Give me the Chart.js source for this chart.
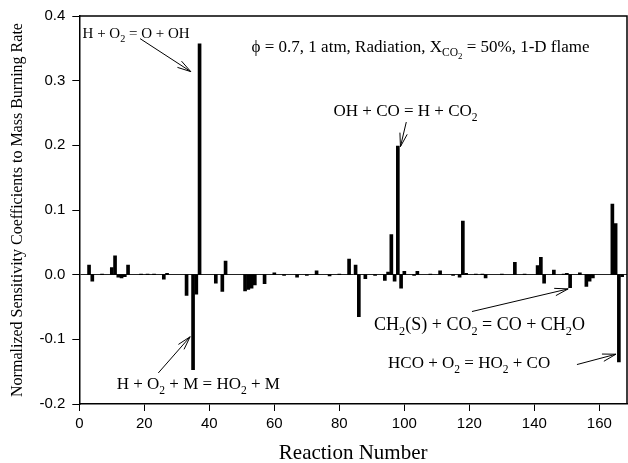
<!DOCTYPE html>
<html>
<head>
<meta charset="utf-8">
<script src="https://cdn.jsdelivr.net/npm/chart.js@4.4.1/dist/chart.umd.min.js"></script>
<style>
  html, body { margin: 0; padding: 0; background: #fff; }
  #wrap { width: 628px; height: 463px; }
</style>
</head>
<body>
<div id="wrap"><canvas id="sensitivity-chart" width="628" height="463"></canvas></div>
<script>
// Reaction index and normalized sensitivity of mass burning rate
const reactionNumbers = [
    3, 4, 7, 10, 11, 12, 13, 14, 15, 19, 21, 23, 26, 27,
    33, 35, 36, 37, 42, 44, 45, 51, 52, 53, 54, 57, 60, 63,
    67, 70, 73, 77, 80, 83, 85, 86, 88, 91, 94, 95, 96, 97,
    98, 99, 100, 103, 104, 108, 111, 115, 117, 118, 119, 122, 124, 125,
    130, 134, 137, 141, 142, 143, 146, 149, 150, 151, 154, 156, 157, 158,
    164, 165, 166, 167
];
const sensitivities = [
    0.015, -0.010, 0.001, 0.011, 0.029, -0.004, -0.005, -0.003, 0.015, 0.001, 0.001, 0.001, -0.007, 0.002,
    -0.032, -0.147, -0.030, 0.357, -0.013, -0.026, 0.021, -0.025, -0.023, -0.021, -0.016, -0.014, 0.003, -0.001,
    -0.004, -0.001, 0.006, -0.002, 0.001, 0.024, 0.015, -0.065, -0.006, -0.001, -0.009, 0.004, 0.062, -0.010,
    0.199, -0.021, 0.005, -0.001, 0.005, 0.001, 0.006, -0.001, -0.004, 0.083, 0.002, 0.001, 0.001, -0.005,
    0.001, 0.019, 0.001, 0.014, 0.027, -0.013, 0.007, 0.001, 0.002, -0.020, 0.003, -0.018, -0.010, -0.005,
    0.109, 0.079, -0.135, -0.003
];
const xTickStep = 20;
const yTickStep = 0.1;

// Reaction labels: text runs as [string, level] (0 normal, 1 subscript, 2 sub-subscript),
// anchored at (reaction, value); arrows go from [x1, y1] to [x2, y2] in data units
const labels = [
    { at: [1.0, 0.366], size: 15, parts: [["H + O", 0], ["2", 1], [" = O + OH", 0]], arrow: [18.7, 0.365, 34.3, 0.314] },
    { at: [53.0, 0.345], size: 17, parts: [["\u03d5 = 0.7, 1 atm, Radiation, X", 0], ["CO", 1], ["2", 2], [" = 50%, 1-D flame", 0]] },
    { at: [78.2, 0.245], size: 17, parts: [["OH + CO = H + CO", 0], ["2", 1]], arrow: [100.6, 0.236, 98.8, 0.198] },
    { at: [11.5, -0.177], size: 17, parts: [["H + O", 0], ["2", 1], [" + M = HO", 0], ["2", 1], [" + M", 0]], arrow: [24.3, -0.152, 34.1, -0.096] },
    { at: [90.7, -0.086], size: 18, parts: [["CH", 0], ["2", 1], ["(S) + CO", 0], ["2", 1], [" = CO + CH", 0], ["2", 1], ["O", 0]], arrow: [120.8, -0.057, 150.4, -0.022] },
    { at: [95.0, -0.145], size: 17, parts: [["HCO + O", 0], ["2", 1], [" = HO", 0], ["2", 1], [" + CO", 0]], arrow: [153.1, -0.139, 165.1, -0.123] }
];

const serif = '"Liberation Serif", "Times New Roman", serif';
const sans = '"Liberation Sans", Arial, sans-serif';

function drawRichText(ctx, x, y, parts, size) {
    let cursor = x;
    parts.forEach(([text, level]) => {
        const s = level === 0 ? size : level === 1 ? size * 0.68 : size * 0.52;
        const drop = level === 0 ? 0 : level === 1 ? size * 0.28 : size * 0.46;
        ctx.font = `${s}px ${serif}`;
        ctx.fillText(text, cursor, y + drop);
        cursor += ctx.measureText(text).width;
    });
}

function drawArrow(ctx, x1, y1, x2, y2) {
    const angle = Math.atan2(y2 - y1, x2 - x1);
    const head = 14;
    const spread = 0.27;
    ctx.beginPath();
    ctx.moveTo(x1, y1);
    ctx.lineTo(x2, y2);
    ctx.moveTo(x2 - head * Math.cos(angle - spread), y2 - head * Math.sin(angle - spread));
    ctx.lineTo(x2, y2);
    ctx.lineTo(x2 - head * Math.cos(angle + spread), y2 - head * Math.sin(angle + spread));
    ctx.stroke();
}

const labelPlugin = {
    id: 'reactionLabels',
    afterDatasetsDraw(chart) {
        const { ctx, chartArea, scales } = chart;
        ctx.save();

        // close the frame on top and right
        ctx.strokeStyle = '#000';
        ctx.lineWidth = 1.5;
        ctx.beginPath();
        ctx.moveTo(chartArea.left, chartArea.top);
        ctx.lineTo(chartArea.right, chartArea.top);
        ctx.lineTo(chartArea.right, chartArea.bottom);
        ctx.stroke();

        ctx.fillStyle = '#000';
        ctx.lineWidth = 1;
        ctx.textBaseline = 'alphabetic';
        labels.forEach(lbl => {
            drawRichText(ctx, scales.x.getPixelForValue(lbl.at[0]), scales.y.getPixelForValue(lbl.at[1]), lbl.parts, lbl.size);
            if (lbl.arrow) {
                const [ax1, ay1, ax2, ay2] = lbl.arrow;
                drawArrow(ctx,
                    scales.x.getPixelForValue(ax1), scales.y.getPixelForValue(ay1),
                    scales.x.getPixelForValue(ax2), scales.y.getPixelForValue(ay2));
            }
        });
        ctx.restore();
    }
};

new Chart(document.getElementById('sensitivity-chart'), {
    type: 'bar',
    data: {
        datasets: [{
            data: reactionNumbers.map((n, i) => ({ x: n, y: sensitivities[i] })),
            backgroundColor: '#000',
            borderWidth: 0,
            barThickness: 3
        }]
    },
    options: {
        responsive: false,
        devicePixelRatio: 1,
        animation: false,
        layout: { padding: { top: 15.6, right: 1, bottom: 0, left: 0 } },
        plugins: {
            legend: { display: false },
            tooltip: { enabled: false }
        },
        scales: {
            x: {
                type: 'linear',
                min: 0,
                max: 168.5,
                offset: false,
                afterFit: scale => { scale.height = 59; },
                ticks: {
                    stepSize: xTickStep,
                    includeBounds: false,
                    color: '#000',
                    padding: 4,
                    maxRotation: 0,
                    font: { family: sans, size: 15 }
                },
                grid: { drawOnChartArea: false, offset: false, tickLength: 7, tickColor: '#000' },
                border: { color: '#000', width: 1.5 },
                title: {
                    display: true,
                    text: 'Reaction Number',
                    color: '#000',
                    font: { family: serif, size: 21 },
                    padding: { top: 0, bottom: -3 }
                }
            },
            y: {
                min: -0.2,
                max: 0.4,
                afterFit: scale => { scale.width = 79.3; },
                ticks: {
                    stepSize: yTickStep,
                    color: '#000',
                    padding: 7,
                    font: { family: sans, size: 15 },
                    callback: v => v.toFixed(1)
                },
                grid: {
                    color: ctx => Math.abs(ctx.tick.value) < 1e-9 ? '#222' : 'transparent',
                    lineWidth: 1,
                    tickLength: 7,
                    tickColor: '#000'
                },
                border: { color: '#000', width: 1.5 },
                title: {
                    display: true,
                    text: 'Normalized Sensitivity Coefficients to Mass Burning Rate',
                    color: '#000',
                    font: { family: serif, size: 16 },
                    padding: { top: 8, bottom: 0 }
                }
            }
        }
    },
    plugins: [labelPlugin]
});
</script>
</body>
</html>
